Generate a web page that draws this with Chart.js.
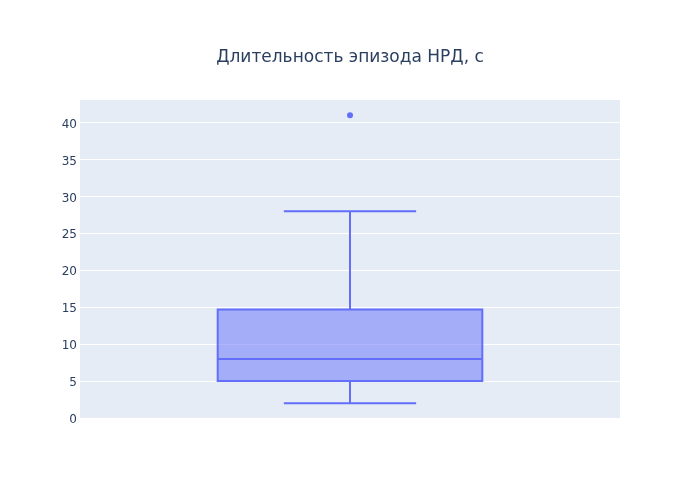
<!DOCTYPE html>
<html>
<head>
<meta charset="utf-8">
<script src="https://cdn.jsdelivr.net/npm/chart.js@4"></script>
<style>
html,body{margin:0;padding:0;background:#fff;}
#wrap{width:700px;height:500px;}
</style>
</head>
<body>
<div id="wrap"><canvas id="c" width="700" height="500"></canvas></div>
<script>
const titleText = 'Длительность эпизода НРД, с';
const categories = ['НРД'];
const q1 = [5];
const median = [8];
const q3 = [14.7];
const whiskerLow = [2];
const whiskerHigh = [28];
const outliers = [41];
const yTicks = [0, 5, 10, 15, 20, 25, 30, 35, 40];

const LINE = '#636efa';
const FILL = 'rgba(99,110,250,0.5)';
const TEXT = '#2a3f5f';
const FONT = '"DejaVu Sans", "Open Sans", sans-serif';

const bgPlugin = {
  id: 'bg',
  beforeDraw(chart) {
    const {ctx, chartArea: a} = chart;
    ctx.save();
    ctx.fillStyle = '#e5ecf6';
    ctx.fillRect(a.left, a.top, a.right - a.left, a.bottom - a.top);
    ctx.restore();
  },
  afterDraw(chart) {
    const ctx = chart.ctx;
    ctx.save();
    ctx.fillStyle = TEXT;
    ctx.font = '17px ' + FONT;
    ctx.textAlign = 'center';
    ctx.textBaseline = 'middle';
    ctx.fillText(titleText, chart.width / 2, 58);
    ctx.restore();
  }
};

const boxPlugin = {
  id: 'boxWhiskers',
  afterDatasetsDraw(chart) {
    const ctx = chart.ctx;
    const ys = chart.scales.y;
    const meta = chart.getDatasetMeta(0);
    ctx.save();
    ctx.strokeStyle = LINE;
    ctx.lineWidth = 2;
    meta.data.forEach((bar, i) => {
      const x = bar.x;
      const w = bar.width;
      const yQ1 = ys.getPixelForValue(q1[i]);
      const yQ3 = ys.getPixelForValue(q3[i]);
      const yMed = ys.getPixelForValue(median[i]);
      const yLo = ys.getPixelForValue(whiskerLow[i]);
      const yHi = ys.getPixelForValue(whiskerHigh[i]);
      const cap = w / 4;
      ctx.beginPath();
      ctx.rect(x - w / 2, yQ3, w, yQ1 - yQ3);
      // upper whisker
      ctx.moveTo(x, yQ3); ctx.lineTo(x, yHi);
      ctx.moveTo(x - cap, yHi); ctx.lineTo(x + cap, yHi);
      // lower whisker
      ctx.moveTo(x, yQ1); ctx.lineTo(x, yLo);
      ctx.moveTo(x - cap, yLo); ctx.lineTo(x + cap, yLo);
      // median
      ctx.moveTo(x - w / 2, yMed); ctx.lineTo(x + w / 2, yMed);
      ctx.stroke();
    });
    ctx.restore();
  }
};

new Chart(document.getElementById('c'), {
  data: {
    labels: categories,
    datasets: [
      {
        type: 'bar',
        data: categories.map((c, i) => [q1[i], q3[i]]),
        backgroundColor: FILL,
        borderWidth: 0,
        barPercentage: 0.49,
        categoryPercentage: 1.0,
        order: 2
      },
      {
        type: 'line',
        data: outliers,
        showLine: false,
        pointRadius: 3,
        pointBackgroundColor: LINE,
        pointBorderWidth: 0,
        order: 1
      }
    ]
  },
  options: {
    responsive: false,
    animation: false,
    devicePixelRatio: 1,
    layout: {padding: {left: 0, right: 80, top: 100, bottom: 82}},
    plugins: {
      legend: {display: false},
      tooltip: {enabled: false},
      title: {display: false}
    },
    scales: {
      x: {
        type: 'category',
        display: false,
        offset: true
      },
      y: {
        min: 0,
        max: 43.05,
        afterFit(s) { s.width = 80; },
        afterBuildTicks(s) { s.ticks = yTicks.map(v => ({value: v})); },
        border: {display: false},
        grid: {color: '#ffffff', lineWidth: 1, drawTicks: false},
        ticks: {
          color: TEXT,
          padding: 3,
          labelOffset: 2,
          font: {family: FONT, size: 12}
        }
      }
    }
  },
  plugins: [bgPlugin, boxPlugin]
});
</script>
</body>
</html>
